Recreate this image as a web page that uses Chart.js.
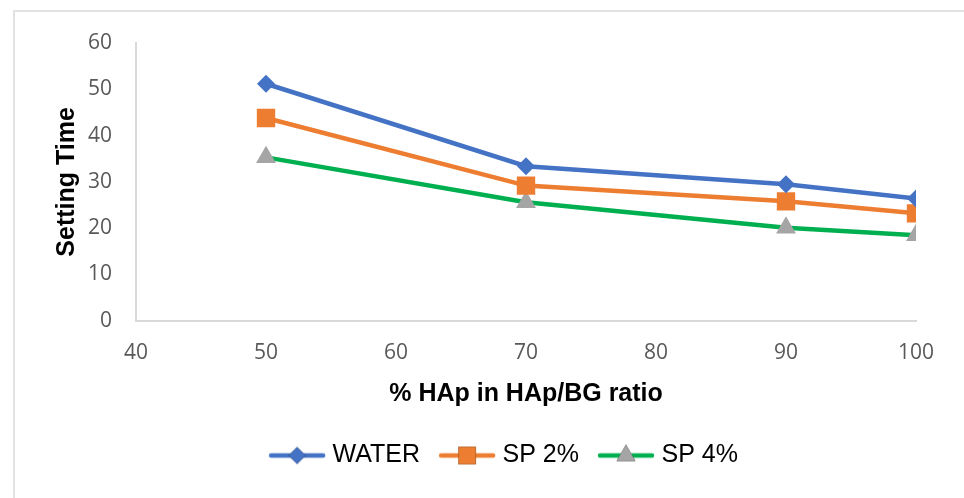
<!DOCTYPE html>
<html>
<head>
<meta charset="utf-8">
<script src="https://cdn.jsdelivr.net/npm/chart.js@4.4.1/dist/chart.umd.min.js"></script>
<style>
  html, body { margin: 0; padding: 0; background: #fff; overflow: hidden; }
  #frame { position: absolute; left: 13px; top: 10px; width: 1000px; height: 600px; border: 2px solid #e2e2e2; }
  #chart { position: absolute; left: 0; top: 0; }
</style>
</head>
<body>
<div id="frame"></div>
<canvas id="chart" width="964" height="498"></canvas>
<script>
const xValues = [50, 70, 90, 100];
const water = [51.2, 33.4, 29.5, 26.4];
const sp2 = [43.8, 29.2, 25.8, 23.2];
const sp4 = [35.3, 25.6, 20.1, 18.5];
const seriesNames = ["WATER", "SP 2%", "SP 4%"];
const xTitle = "% HAp in HAp/BG ratio";
const yTitle = "Setting Time";

const BLUE = "#4472C4", ORANGE = "#ED7D31", GREEN = "#00B050", GREY = "#A5A5A5";

function toPoints(vals) {
  return vals.map((v, i) => ({ x: xValues[i], y: v }));
}

// little line + marker image for the legend
function legendIcon(lineColor, markerColor, style, radius) {
  const c = document.createElement("canvas");
  c.width = 58; c.height = 26;
  const ctx = c.getContext("2d");
  ctx.strokeStyle = lineColor;
  ctx.lineWidth = 4.5;
  ctx.lineCap = "round";
  ctx.beginPath();
  ctx.moveTo(3, 13);
  ctx.lineTo(55, 13);
  ctx.stroke();
  Chart.helpers.drawPoint(ctx, { pointStyle: style, radius: radius, borderWidth: 0 }, 29, 13);
  ctx.fillStyle = markerColor;
  ctx.fill();
  return c;
}

const series = [
  { name: seriesNames[0], vals: water, line: BLUE, marker: BLUE, style: "rectRot", r: 9 },
  { name: seriesNames[1], vals: sp2, line: ORANGE, marker: ORANGE, style: "rect", r: 13 },
  { name: seriesNames[2], vals: sp4, line: GREEN, marker: GREY, style: "triangle", r: 11.5 }
];

const icons = series.map(s => legendIcon(s.line, s.marker, s.style, s.r * 0.95));

// the legend in the original sits a bit right of the page centre
const legendShift = {
  id: "legendShift",
  afterLayout(ch) {
    ch.legend.left += 44;
  }
};

const chart = new Chart(document.getElementById("chart"), {
  type: "line",
  data: {
    datasets: series.map(s => ({
      label: s.name,
      data: toPoints(s.vals),
      borderColor: s.line,
      backgroundColor: s.marker,
      borderWidth: 4.5,
      tension: 0,
      pointStyle: s.style,
      pointRadius: s.r,
      pointHoverRadius: s.r,
      pointBackgroundColor: s.marker,
      pointBorderColor: s.marker,
      pointBorderWidth: 0
    }))
  },
  plugins: [legendShift],
  options: {
    responsive: false,
    animation: false,
    layout: { padding: { left: 52, right: 48, top: 43, bottom: 20 } },
    plugins: {
      tooltip: { enabled: false },
      legend: {
        position: "bottom",
        labels: {
          usePointStyle: true,
          pointStyleWidth: 46,
          padding: 24,
          color: "#111",
          font: { family: "'Liberation Sans', Arial, sans-serif", size: 25 },
          generateLabels: (ch) => ch.data.datasets.map((d, i) => ({
            text: d.label,
            pointStyle: icons[i],
            fillStyle: d.borderColor,
            strokeStyle: d.borderColor,
            lineWidth: 0,
            hidden: false,
            datasetIndex: i
          }))
        }
      }
    },
    scales: {
      x: {
        type: "linear",
        min: 40,
        max: 100,
        ticks: {
          stepSize: 10,
          padding: 4,
          color: "#595959",
          font: { family: "'Open Sans', sans-serif", size: 21 }
        },
        grid: { display: false, drawTicks: true, tickLength: 16 },
        border: { display: true, color: "#d9d9d9", width: 2 },
        title: {
          display: true,
          text: xTitle,
          color: "#000",
          padding: { top: 9, bottom: 10 },
          font: { family: "'Liberation Sans', Arial, sans-serif", size: 25, weight: "bold" }
        }
      },
      y: {
        min: 0,
        max: 60,
        ticks: {
          stepSize: 10,
          padding: 4,
          color: "#595959",
          font: { family: "'Open Sans', sans-serif", size: 21 }
        },
        grid: { display: false, drawTicks: true, tickLength: 20 },
        border: { display: true, color: "#d9d9d9", width: 2 },
        title: {
          display: true,
          text: yTitle,
          color: "#000",
          padding: { top: 0, bottom: 2 },
          font: { family: "'Liberation Sans', Arial, sans-serif", size: 25, weight: "bold" }
        }
      }
    }
  }
});
</script>
</body>
</html>
